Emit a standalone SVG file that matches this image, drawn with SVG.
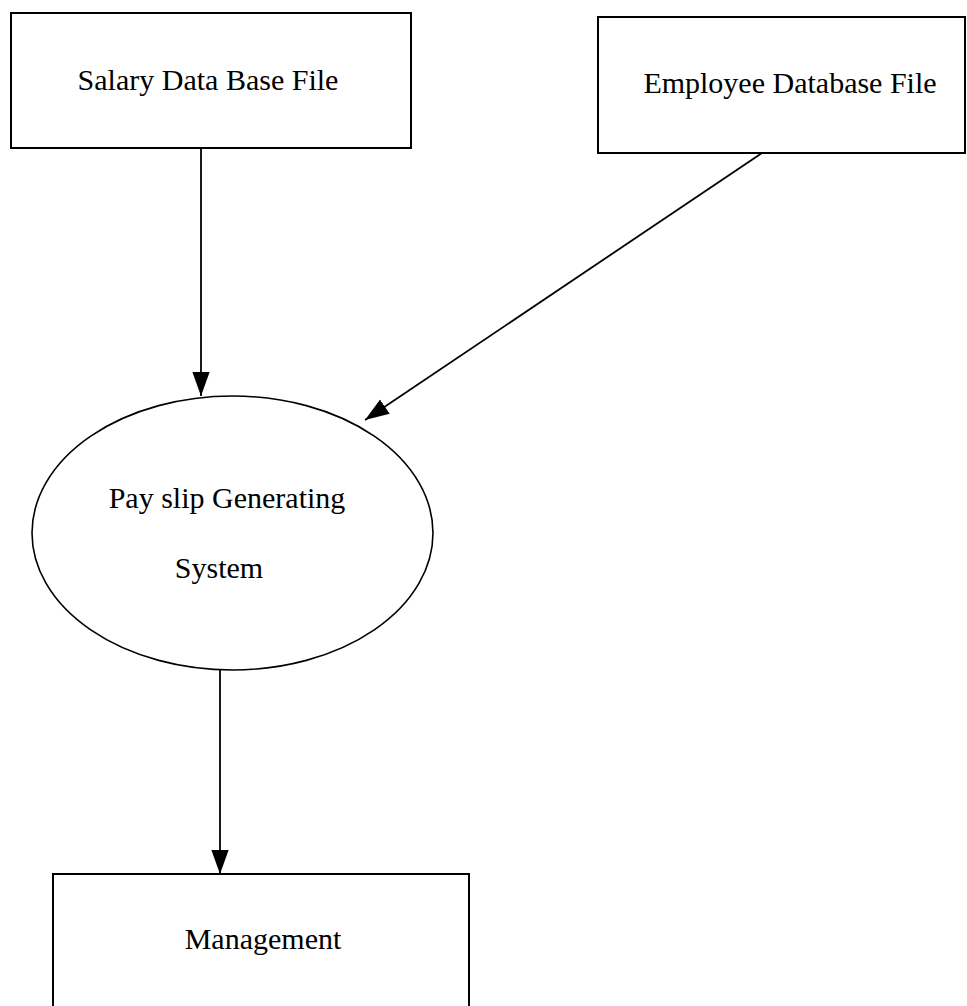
<svg xmlns="http://www.w3.org/2000/svg" width="967" height="1006" viewBox="0 0 967 1006">
  <style>
    .box { fill: #fff; stroke: #000; stroke-width: 2; }
    .proc { fill: #fff; stroke: #000; stroke-width: 1.6; }
    .lbl { font-family: "Liberation Serif", "Times New Roman", serif; font-size: 30px; fill: #000; text-anchor: middle; }
    .flow { fill: none; stroke: #000; stroke-width: 1.8; }
  </style>
  <defs>
    <marker id="head" viewBox="0 0 10 10" refX="10" refY="5" markerWidth="24" markerHeight="24" markerUnits="userSpaceOnUse" orient="auto">
      <path d="M0,1.4 L10,5 L0,8.6 z" fill="#000"/>
    </marker>
  </defs>
  <rect width="967" height="1006" fill="#fff"/>

  <g id="salary-db">
    <rect class="box" x="11" y="13" width="400" height="135"/>
    <text class="lbl" x="208" y="90">Salary Data Base File</text>
  </g>

  <g id="employee-db">
    <rect class="box" x="598" y="17" width="367" height="136"/>
    <text class="lbl" x="790" y="93">Employee Database File</text>
  </g>

  <g id="payslip-system">
    <ellipse class="proc" cx="232.5" cy="533" rx="200.5" ry="137"/>
    <text class="lbl" x="227" y="508">Pay slip Generating</text>
    <text class="lbl" x="219" y="578">System</text>
  </g>

  <g id="management">
    <rect class="box" x="53" y="874" width="416" height="150"/>
    <text class="lbl" x="263" y="949">Management</text>
  </g>

  <g id="connectors">
    <line class="flow" x1="201" y1="148" x2="201" y2="396" marker-end="url(#head)"/>
    <line class="flow" x1="762" y1="153" x2="365" y2="420" marker-end="url(#head)"/>
    <line class="flow" x1="220" y1="670" x2="220" y2="874" marker-end="url(#head)"/>
  </g>
</svg>
